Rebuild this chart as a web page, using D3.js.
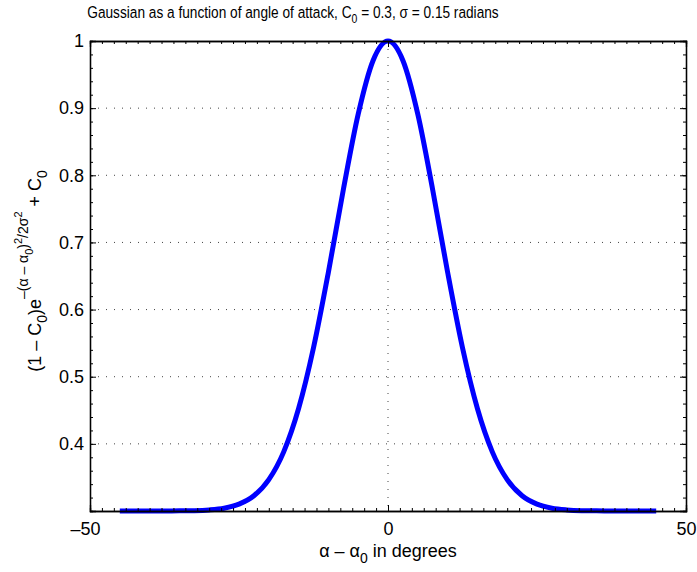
<!DOCTYPE html>
<html>
<head>
<meta charset="utf-8">
<script src="https://cdn.jsdelivr.net/npm/d3@7"></script>
<style>
  body { margin: 0; background: #fff; }
  svg { display: block; font-family: "Liberation Sans", Arial, sans-serif; }
</style>
</head>
<body>
<svg id="chart" width="697" height="572"></svg>
<script>
// angle of attack offset (degrees) and gain
var angles = [-45, -42.5, -40, -37.5, -35, -32.5, -30, -27.5, -25, -22.5, -20, -17.5, -15, -12.5, -10, -7.5, -5, -2.5,
  0, 2.5, 5, 7.5, 10, 12.5, 15, 17.5, 20, 22.5, 25, 27.5, 30, 32.5, 35, 37.5, 40, 42.5, 45];
var gains = [0.3, 0.3, 0.3, 0.3001, 0.3002, 0.3005, 0.3016, 0.3042, 0.3102, 0.3227, 0.3467, 0.3881, 0.4526, 0.5431, 0.6557, 0.7783, 0.8910, 0.9710,
  1.0, 0.9710, 0.8910, 0.7783, 0.6557, 0.5431, 0.4526, 0.3881, 0.3467, 0.3227, 0.3102, 0.3042, 0.3016, 0.3005, 0.3002, 0.3001, 0.3, 0.3, 0.3];
var xTicks = [-50, 0, 50];
var yTicks = [0.4, 0.5, 0.6, 0.7, 0.8, 0.9, 1];

var margin = {left: 90, top: 41, right: 11, bottom: 61};
var W = 697, H = 572;
var w = W - margin.left - margin.right;
var h = H - margin.top - margin.bottom;

var svg = d3.select('#chart');
var g = svg.append('g').attr('transform', 'translate(' + margin.left + ',' + margin.top + ')');

var x = d3.scaleLinear().domain([-50, 50]).range([0, w]);
var y = d3.scaleLinear().domain([0.3, 1]).range([h, 0]);

// grid
g.selectAll('.hgrid').data(yTicks.filter(function(d){ return d < 1; })).enter()
  .append('line')
  .attr('x1', 0).attr('x2', w)
  .attr('y1', function(d){ return y(d); }).attr('y2', function(d){ return y(d); })
  .attr('stroke', '#444').attr('stroke-width', 1).attr('stroke-dasharray', '1,7');
g.selectAll('.vgrid').data(xTicks.filter(function(d){ return d > -50 && d < 50; })).enter()
  .append('line')
  .attr('y1', 0).attr('y2', h)
  .attr('x1', function(d){ return x(d); }).attr('x2', function(d){ return x(d); })
  .attr('stroke', '#444').attr('stroke-width', 1).attr('stroke-dasharray', '1,7');

// curve
var line = d3.line()
  .x(function(d, i){ return x(angles[i]); })
  .y(function(d){ return y(d); })
  .curve(d3.curveMonotoneX);
g.append('path')
  .datum(gains)
  .attr('d', line)
  .attr('fill', 'none')
  .attr('stroke', '#0000ff')
  .attr('stroke-width', 5);

// axes: ticks drawn inward on all four sides
var xMinor = d3.range(-48, 50, 2);
var yMinor = d3.range(0.32, 0.999, 0.02);

g.append('g').attr('transform', 'translate(0,' + h + ')')
  .call(d3.axisBottom(x).tickValues(xMinor).tickSize(-3).tickFormat(''));
g.append('g')
  .call(d3.axisTop(x).tickValues(xMinor).tickSize(-3).tickFormat(''));
g.append('g')
  .call(d3.axisLeft(y).tickValues(yMinor).tickSize(-3).tickFormat(''));
g.append('g').attr('transform', 'translate(' + w + ',0)')
  .call(d3.axisRight(y).tickValues(yMinor).tickSize(-3).tickFormat(''));

var xAxis = g.append('g').attr('transform', 'translate(0,' + h + ')')
  .call(d3.axisBottom(x).tickValues(xTicks).tickSize(-6).tickPadding(11)
    .tickFormat(function(d){ return d < 0 ? '\u2013' + Math.abs(d) : d; }));
g.append('g').call(d3.axisTop(x).tickValues(xTicks).tickSize(-6).tickFormat(''));
var yAxis = g.append('g')
  .call(d3.axisLeft(y).tickValues(yTicks).tickSize(-6).tickPadding(6)
    .tickFormat(function(d){ return d === 1 ? '1' : d3.format('.1f')(d); }));
g.append('g').attr('transform', 'translate(' + w + ',0)')
  .call(d3.axisRight(y).tickValues(yTicks).tickSize(-6).tickFormat(''));

svg.selectAll('.domain').attr('stroke', '#000').attr('stroke-width', 1.3);
svg.selectAll('.tick line').attr('stroke', '#000');
svg.selectAll('.tick text').attr('fill', '#000').attr('font-size', 18)
  .attr('font-family', '"Liberation Sans", Arial, sans-serif');
xAxis.selectAll('.tick text').filter(function(d){ return d < 0; }).attr('dx', -5);

// squeeze a text horizontally to the width seen in the reference
function fitWidth(sel, cx, target) {
  var bw = sel.node().getBBox().width;
  var s = target / bw;
  sel.attr('transform', 'translate(' + cx + ',0) scale(' + s + ',1) translate(' + (-cx) + ',0)');
}

// title
var title = svg.append('text')
  .attr('x', 293).attr('y', 18)
  .attr('text-anchor', 'middle')
  .attr('font-size', 17)
  .attr('fill', '#000');
title.append('tspan').text('Gaussian as a function of angle of attack, C');
title.append('tspan').attr('dy', 5).attr('font-size', 13).text('0');
title.append('tspan').attr('dy', -5).text(' = 0.3, \u03c3 = 0.15 radians');
fitWidth(title, 293, 412);

// x label
var xl = svg.append('text')
  .attr('x', 388).attr('y', 557)
  .attr('text-anchor', 'middle')
  .attr('font-size', 18)
  .attr('fill', '#000');
xl.append('tspan').text('\u03b1 \u2013 \u03b1');
xl.append('tspan').attr('dy', 6).attr('font-size', 14).text('0');
xl.append('tspan').attr('dy', -6).text(' in degrees');

// y label
var yl = svg.append('text')
  .attr('transform', 'translate(41,271) rotate(-90)')
  .attr('text-anchor', 'middle')
  .attr('font-size', 18)
  .attr('fill', '#000');
yl.append('tspan').text('(1 \u2013 C');
yl.append('tspan').attr('dy', 6).attr('font-size', 14).text('0');
yl.append('tspan').attr('dy', -6).text(')e');
yl.append('tspan').attr('dy', -13).attr('font-size', 14).text('\u2013(\u03b1 \u2013 \u03b1');
yl.append('tspan').attr('dy', 5).attr('font-size', 11).text('0');
yl.append('tspan').attr('dy', -5).attr('font-size', 14).text(')');
yl.append('tspan').attr('dy', -6).attr('font-size', 11).text('2');
yl.append('tspan').attr('dy', 6).attr('font-size', 14).text('/2\u03c3');
yl.append('tspan').attr('dy', -6).attr('font-size', 11).text('2');
yl.append('tspan').attr('dy', 19).text(' + C');
yl.append('tspan').attr('dy', 6).attr('font-size', 14).text('0');
</script>
</body>
</html>
